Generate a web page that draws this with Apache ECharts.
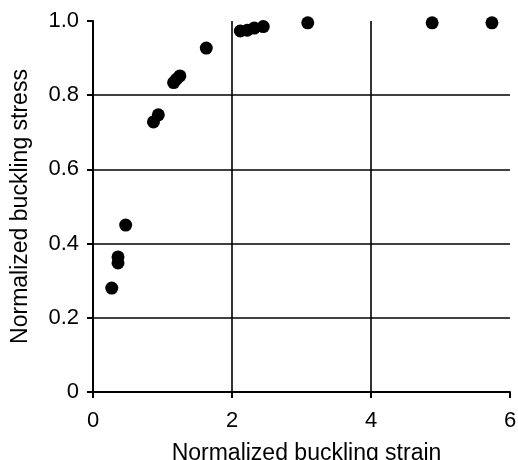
<!DOCTYPE html>
<html>
<head>
<meta charset="utf-8">
<script src="https://cdn.jsdelivr.net/npm/echarts@6/dist/echarts.min.js"></script>
<style>html,body{margin:0;padding:0;background:#fff}#c{width:518px;height:460px}</style>
</head>
<body>
<div id="c"></div>
<script>
const strain = [0.27, 0.36, 0.36, 0.47, 0.87, 0.94, 1.16, 1.20, 1.25, 1.63, 2.12, 2.22, 2.32, 2.45, 3.09, 4.88, 5.74];
const stress = [0.28, 0.348, 0.364, 0.45, 0.728, 0.747, 0.834, 0.843, 0.852, 0.927, 0.973, 0.975, 0.981, 0.985, 0.995, 0.995, 0.995];
const xTicks = [0, 2, 4, 6];
const yTicks = [0, 0.2, 0.4, 0.6, 0.8, 1.0];
const xTitle = 'Normalized buckling strain';
const yTitle = 'Normalized buckling stress';

const font = '"Liberation Sans", Arial, Helvetica, sans-serif';
const chart = echarts.init(document.getElementById('c'), null, {renderer: 'canvas'});
chart.setOption({
  animation: false,
  backgroundColor: '#fff',
  grid: {left: 93, right: 8, top: 21, bottom: 68, containLabel: false, outerBoundsMode: 'none'},
  xAxis: {
    type: 'value', min: xTicks[0], max: xTicks[xTicks.length - 1], interval: 2,
    name: xTitle, nameLocation: 'middle', nameGap: 50,
    nameTextStyle: {fontFamily: font, fontSize: 23, color: '#000', padding: [0, 0, 0, 10]},
    axisLine: {show: true, lineStyle: {color: '#000', width: 2}},
    axisTick: {show: true, length: 6, lineStyle: {color: '#000', width: 2}},
    axisLabel: {fontFamily: font, fontSize: 22, color: '#000', margin: 18},
    splitLine: {show: true, showMinLine: false, showMaxLine: false, lineStyle: {color: '#000', width: 1.6}}
  },
  yAxis: {
    type: 'value', min: yTicks[0], max: yTicks[yTicks.length - 1], interval: 0.2,
    name: yTitle, nameLocation: 'middle', nameGap: 61,
    nameTextStyle: {fontFamily: font, fontSize: 23, color: '#000'},
    axisLine: {show: true, lineStyle: {color: '#000', width: 2}},
    axisTick: {show: true, length: 6, lineStyle: {color: '#000', width: 2}},
    axisLabel: {fontFamily: font, fontSize: 22, color: '#000', margin: 14,
      formatter: v => v === 0 ? '0' : v.toFixed(1)},
    splitLine: {show: true, showMinLine: false, showMaxLine: false, lineStyle: {color: '#000', width: 1.6}}
  },
  series: [{
    type: 'scatter',
    data: strain.map((x, i) => [x, stress[i]]),
    symbol: 'circle', symbolSize: 13,
    itemStyle: {color: '#000', opacity: 1},
    clip: false
  }]
});
</script>
</body>
</html>
